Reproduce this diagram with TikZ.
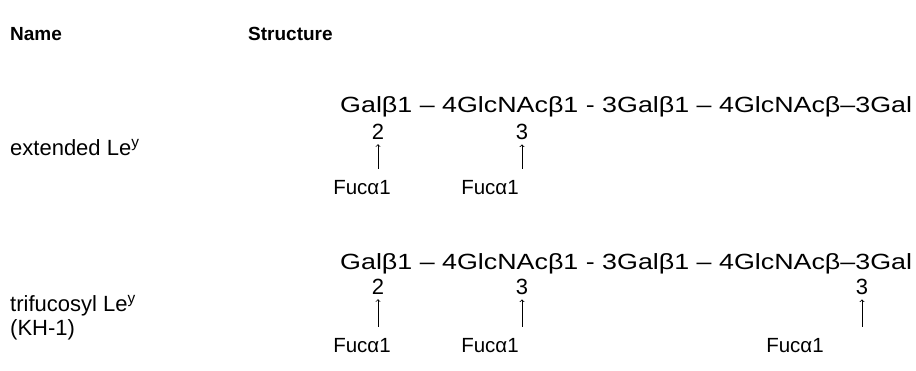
\documentclass[tikz,border=0pt]{standalone}
\usepackage{fontspec}
\setmainfont{Liberation Sans}
\newfontfamily\chainfont{Liberation Sans}[FakeStretch=1.22]
\begin{document}
\begin{tikzpicture}[x=1pt,y=-1pt,shorten >=1pt]
	\tikzstyle{txt}=[inner sep=0pt,anchor=base west,font=\fontsize{22}{26}\selectfont]
	\tikzstyle{head}=[inner sep=0pt,anchor=base west,font=\fontsize{19}{23}\selectfont\bfseries]
	\tikzstyle{chain}=[inner sep=0pt,anchor=base west,font=\fontsize{22}{26}\chainfont]
	\tikzstyle{link}=[inner sep=1pt,anchor=base,font=\fontsize{22}{26}\selectfont]
	\tikzstyle{fuc}=[inner sep=1pt,anchor=base,font=\fontsize{20.5}{24}\selectfont]
	\tikzstyle{up}=[->,line width=0.8pt,shorten <=10pt,shorten >=4pt]
	\useasboundingbox (0,0) rectangle (916,370);

	\node[head](name) at (10,40){Name};
	\node[head](struct) at (248,40){Structure};

	\node[txt](ext) at (10,155){extended Le\textsuperscript{y}};
	\node[txt](tri) at (10,311){trifucosyl Le\textsuperscript{y}};
	\node[txt](kh) at (10,335){(KH-1)};

	% the two chains
	\node[chain](c1) at (340,112){Galβ1 – 4GlcNAcβ1 - 3Galβ1 – 4GlcNAcβ–3Gal};
	\node[chain](c2) at (340,269){Galβ1 – 4GlcNAcβ1 - 3Galβ1 – 4GlcNAcβ–3Gal};

	% linkage positions
	\node[link](na1) at (378,139){2};
	\node[link](nb1) at (522,139){3};
	\node[link](na2) at (378,294){2};
	\node[link](nb2) at (522,294){3};
	\node[link](nd2) at (862,294){3};

	\node[fuc](fa1) at (362,194){Fucα1};
	\node[fuc](fb1) at (490,194){Fucα1};
	\node[fuc](fa2) at (362,352){Fucα1};
	\node[fuc](fb2) at (490,352){Fucα1};
	\node[fuc](fd2) at (795,352){Fucα1};

	\draw[up] (na1 |- fa1.north) -- (na1.south);
	\draw[up] (nb1 |- fb1.north) -- (nb1.south);
	\draw[up] (na2 |- fa2.north) -- (na2.south);
	\draw[up] (nb2 |- fb2.north) -- (nb2.south);
	\draw[up] (nd2 |- fd2.north) -- (nd2.south);
\end{tikzpicture}
\end{document}
